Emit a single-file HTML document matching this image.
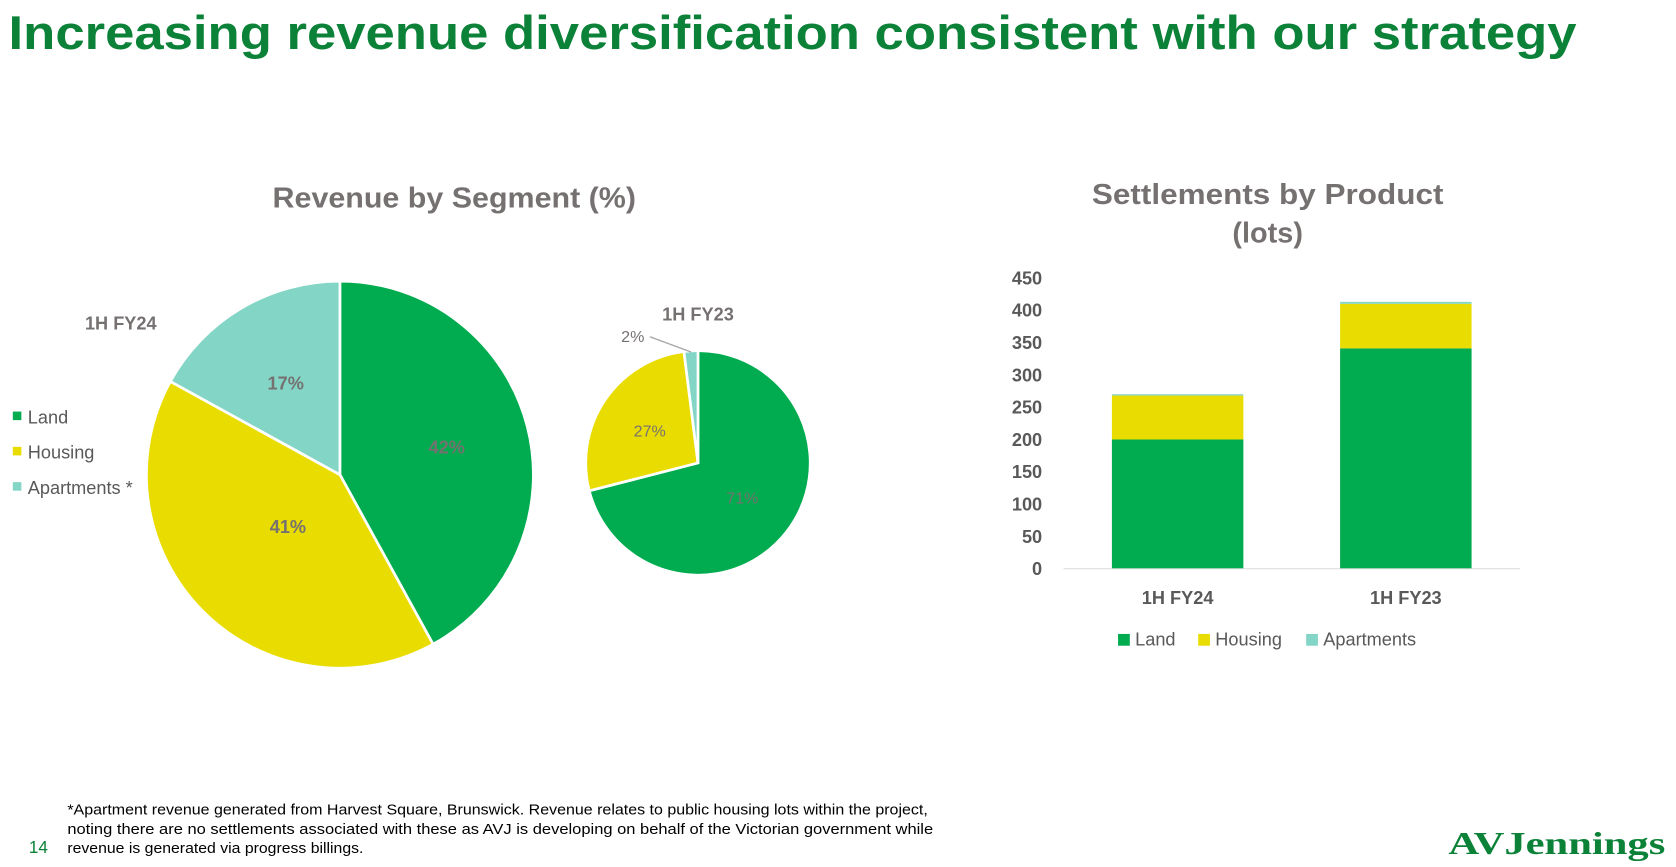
<!DOCTYPE html>
<html><head><meta charset="utf-8"><style>
html,body{margin:0;padding:0;background:#fff;}
svg{display:block;font-family:"Liberation Sans",sans-serif;}
</style></head><body>
<svg id="s" width="1676" height="867" viewBox="0 0 1568 811" preserveAspectRatio="none">
<text x="8" y="46" font-size="44" font-weight="bold" fill="#0b8238" textLength="1467" lengthAdjust="spacingAndGlyphs">Increasing revenue diversification consistent with our strategy</text>
<text x="425" y="194" text-anchor="middle" font-size="27" font-weight="bold" fill="#767171" textLength="340" lengthAdjust="spacingAndGlyphs">Revenue by Segment (%)</text>
<text x="113" y="308" text-anchor="middle" font-size="17" font-weight="bold" fill="#767171">1H FY24</text>
<text x="653" y="300" text-anchor="middle" font-size="17" font-weight="bold" fill="#767171">1H FY23</text>
<g id="pies"></g>
<g>
<rect x="12" y="385" width="8" height="8" fill="#00ac4f"/>
<text x="26" y="396" font-size="17" fill="#595959">Land</text>
<rect x="12" y="418" width="8" height="8" fill="#e9dc00"/>
<text x="26" y="429" font-size="17" fill="#595959">Housing</text>
<rect x="12" y="451" width="8" height="8" fill="#83d5c6"/>
<text x="26" y="462" font-size="17" fill="#595959">Apartments *</text>
</g>
<text x="1186" y="191" text-anchor="middle" font-size="27" font-weight="bold" fill="#767171" textLength="329" lengthAdjust="spacingAndGlyphs">Settlements by Product</text>
<text x="1186" y="227" text-anchor="middle" font-size="27" font-weight="bold" fill="#767171">(lots)</text>
<g id="bars"></g>
<g>
<rect x="1046" y="593" width="11" height="11" fill="#00ac4f"/>
<text x="1062" y="604" font-size="17" fill="#595959">Land</text>
<rect x="1121" y="593" width="11" height="11" fill="#e9dc00"/>
<text x="1137" y="604" font-size="17" fill="#595959">Housing</text>
<rect x="1222" y="593" width="11" height="11" fill="#83d5c6"/>
<text x="1238" y="604" font-size="17" fill="#595959">Apartments</text>
</g>
<g font-size="13.5" fill="#000">
<text x="63" y="762" textLength="805" lengthAdjust="spacingAndGlyphs">*Apartment revenue generated from Harvest Square, Brunswick. Revenue relates to public housing lots within the project,</text>
<text x="63" y="780" textLength="810" lengthAdjust="spacingAndGlyphs">noting there are no settlements associated with these as AVJ is developing on behalf of the Victorian government while</text>
<text x="63" y="798" textLength="277" lengthAdjust="spacingAndGlyphs">revenue is generated via progress billings.</text>
</g>
<text x="27" y="798" font-size="16" fill="#0b8238">14</text>
<text x="1355" y="799" font-size="30" font-weight="bold" font-family="Liberation Serif,serif" fill="#0b8238" textLength="203" lengthAdjust="spacingAndGlyphs">AVJennings</text>
</svg>
<script>
const segNames=['Land','Housing','Apartments'];
const colors=['#00ac4f','#e9dc00','#83d5c6'];
const fy24Share=[42,41,17];
const fy23Share=[71,27,2];
const barCats=['1H FY24','1H FY23'];
const landLots=[200,341];
const housingLots=[68,69];
const aptLots=[2,3];
const yTicks=[0,50,100,150,200,250,300,350,400,450];
const NS='http://www.w3.org/2000/svg';
function mk(t,a,p){const e=document.createElementNS(NS,t);for(const k in a)e.setAttribute(k,a[k]);p.appendChild(e);return e;}
const pies=document.getElementById('pies');
function pie(vals,cx,cy,r,labelStyles,name){
  const tot=vals.reduce((a,b)=>a+b,0);let a0=0;
  vals.forEach((v,i)=>{
    const a1=a0+v/tot*2*Math.PI;
    const p=(a)=>[cx+r*Math.sin(a),cy-r*Math.cos(a)];
    const [x0,y0]=p(a0),[x1,y1]=p(a1);
    const path=mk('path',{d:`M${cx},${cy}L${x0},${y0}A${r},${r} 0 ${a1-a0>Math.PI?1:0} 1 ${x1},${y1}Z`,fill:colors[i],stroke:'#fff','stroke-width':2.5},pies);
    
    
    const mid=(a0+a1)/2;const ls=labelStyles[i];
    let lx=cx+ls.f*r*Math.sin(mid),ly=cy-ls.f*r*Math.cos(mid);
    if(ls.out){lx=ls.out[0];ly=ls.out[1];
      const ln=mk('polyline',{points:`${lx+16},${ly+1} ${cx+r*0.99*Math.sin(mid)},${cy-r*0.99*Math.cos(mid)}`,fill:'none',stroke:'#a6a6a6','stroke-width':1.2},pies);
      
      
    }
    const t=mk('text',{x:lx,y:ly+6,'text-anchor':'middle','font-size':ls.s,'font-weight':ls.b?'bold':'normal',fill:'#767171'},pies);
    t.textContent=v+'%';
    
    
    a0=a1;
  });
}
pie(fy24Share,318,444,181,[{f:0.57,s:17,b:1},{f:0.38,s:17,b:1},{f:0.55,s:17,b:1}],'pie-fy24');
pie(fy23Share,653,433,105,[{f:0.5,s:15},{f:0.52,s:15},{f:1,s:15,out:[592,314]}],'pie-fy23');
const bars=document.getElementById('bars');
const y0=532,yPer=272/450,plotL=995,plotR=1422,bw=123;
const y=v=>y0-v*yPer;
const cx=i=>plotL+(plotR-plotL)*(i+0.5)/barCats.length;
yTicks.forEach(v=>{const t=mk('text',{x:975,y:y(v)+6,'text-anchor':'end','font-size':17,'font-weight':'bold',fill:'#595959'},bars);t.textContent=v;
  
  });
const series=[landLots,housingLots,aptLots];
barCats.forEach((c,i)=>{let base=0;
  series.forEach((s,j)=>{const r=mk('rect',{x:cx(i)-bw/2,y:y(base+s[i]),width:bw,height:s[i]*yPer,fill:colors[j]},bars);
    
    
    base+=s[i];});
  const t=mk('text',{x:cx(i),y:565,'text-anchor':'middle','font-size':17,'font-weight':'bold',fill:'#595959'},bars);t.textContent=c;
  
  
});
const ax=mk('line',{x1:plotL,x2:plotR,y1:y0,y2:y0,stroke:'#d9d9d9','stroke-width':1},bars);


</script>
</body></html>
